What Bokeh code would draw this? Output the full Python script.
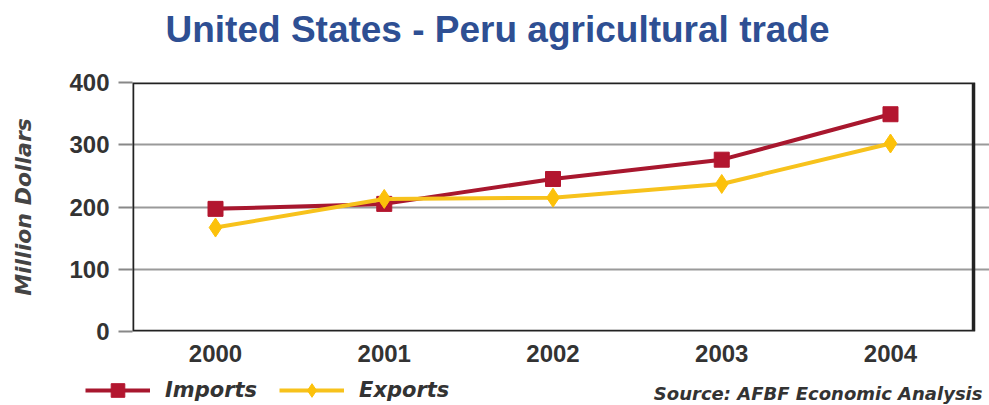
from bokeh.plotting import figure
from bokeh.layouts import column
from bokeh.models import (Range1d, FixedTicker, BoxAnnotation, Legend, LegendItem, Label,
                          ColumnDataSource)
from bokeh.embed import file_html
from bokeh.resources import INLINE

years = [2000, 2001, 2002, 2003, 2004]
imports = [197, 205, 245, 276, 349]
exports = [167, 213, 215, 237, 302]
y_ticks = [0, 100, 200, 300, 400]

title_text = "United States - Peru agricultural trade"
y_label = "Million Dollars"
source_text = "Source: AFBF Economic Analysis"
series_names = ["Imports", "Exports"]

IMP_COLOR = "#a8172e"
IMP_MARK = "#b3162f"
EXP_COLOR = "#f7c21c"
EXP_MARK = "#fcc10a"

src_data = ColumnDataSource(data=dict(year=years, imports=imports, exports=exports))

W = 989
H_HEAD = 66
H_MAIN = 309
H_FOOT = 30


def blank_panel(height):
    fig = figure(width=W, height=height, output_backend="svg", toolbar_location=None,
                 x_range=Range1d(0, W), y_range=Range1d(0, height),
                 x_axis_type=None, y_axis_type=None,
                 min_border_left=0, min_border_right=0, min_border_top=0, min_border_bottom=0)
    fig.outline_line_color = None
    fig.background_fill_color = "white"
    fig.frame_align = False
    return fig


# header with the title
h = blank_panel(H_HEAD)
h.add_layout(Label(x=165, y=37.5, text=title_text, text_align="left", text_baseline="middle",
                   text_font="Liberation Sans", text_font_style="bold", text_font_size="37px",
                   text_color="#2e4f93"))

# main chart
p = figure(width=W, height=H_MAIN, output_backend="svg", toolbar_location=None,
           x_range=Range1d(1999.5081, 2004.5867), y_range=Range1d(0, 400),
           min_border_left=132, min_border_right=0, min_border_top=16, min_border_bottom=44)
p.outline_line_color = None
p.background_fill_color = "white"
p.frame_align = False
p.title.text = ""

# grid
p.xgrid.grid_line_color = None
p.ygrid.grid_line_color = "#9a9a9a"
p.ygrid.grid_line_width = 2
p.ygrid.ticker = FixedTicker(ticks=y_ticks)

# y axis
p.yaxis.ticker = FixedTicker(ticks=y_ticks)
p.yaxis.axis_line_color = None
p.yaxis.major_tick_out = 14
p.yaxis.major_tick_in = 0
p.yaxis.major_tick_line_color = "#888888"
p.yaxis.major_tick_line_width = 2
p.yaxis.minor_tick_line_color = None
p.yaxis.major_label_standoff = 9
p.yaxis.major_label_text_font = "Liberation Sans"
p.yaxis.major_label_text_font_style = "bold"
p.yaxis.major_label_text_font_size = "24px"
p.yaxis.major_label_text_color = "#333333"
p.yaxis.axis_label = y_label
p.yaxis.axis_label_text_font = "DejaVu Sans"
p.yaxis.axis_label_text_font_style = "bold italic"
p.yaxis.axis_label_text_font_size = "22px"
p.yaxis.axis_label_text_color = "#444444"
p.yaxis.axis_label_standoff = 30

# x axis
p.xaxis.ticker = FixedTicker(ticks=years)
p.xaxis.axis_line_color = None
p.xaxis.major_tick_line_color = None
p.xaxis.minor_tick_line_color = None
p.xaxis.major_tick_out = 0
p.xaxis.major_label_standoff = 13
p.xaxis.major_label_text_font = "Liberation Sans"
p.xaxis.major_label_text_font_style = "bold"
p.xaxis.major_label_text_font_size = "24px"
p.xaxis.major_label_text_color = "#333333"

# frame border
frame = BoxAnnotation(right=2004.492, fill_alpha=0, line_color="#222222", line_alpha=1.0,
                      line_width=3.5)
p.add_layout(frame)

# series
p.line("year", "imports", source=src_data, line_color=IMP_COLOR, line_width=4)
p.scatter("year", "imports", source=src_data, marker="square", size=15,
          fill_color=IMP_MARK, line_color=IMP_MARK)
p.line("year", "exports", source=src_data, line_color=EXP_COLOR, line_width=4)
p.scatter("year", "exports", source=src_data, marker="diamond", size=19,
          fill_color=EXP_MARK, line_color=EXP_MARK)

# footer: legend + source note (series drawn outside the pixel ranges, used only as legend keys)
f = blank_panel(H_FOOT)
fl1 = f.line("year", "imports", source=src_data, line_color=IMP_COLOR, line_width=4)
fm1 = f.scatter("year", "imports", source=src_data, marker="square", size=15,
                fill_color=IMP_MARK, line_color=IMP_MARK)
fl2 = f.line("year", "exports", source=src_data, line_color=EXP_COLOR, line_width=4)
fm2 = f.scatter("year", "exports", source=src_data, marker="diamond", size=19,
                fill_color=EXP_MARK, line_color=EXP_MARK)

legend = Legend(items=[LegendItem(label=series_names[0], renderers=[fl1, fm1]),
                       LegendItem(label=series_names[1], renderers=[fl2, fm2])],
                orientation="horizontal", location=(85, -2),
                glyph_width=65, glyph_height=34, label_standoff=15, spacing=22,
                padding=0, margin=0, border_line_color=None, background_fill_alpha=0,
                label_text_font="DejaVu Sans", label_text_font_style="bold italic",
                label_text_font_size="21px", label_text_color="#333333")
f.add_layout(legend)

note = Label(x=982, y=12, text=source_text, text_align="right", text_baseline="middle",
             text_font="DejaVu Sans", text_font_style="bold italic", text_font_size="18px",
             text_color="#333333")
f.add_layout(note)

layout = column(h, p, f, spacing=0)
open("out.html", "w").write(file_html(layout, INLINE))
